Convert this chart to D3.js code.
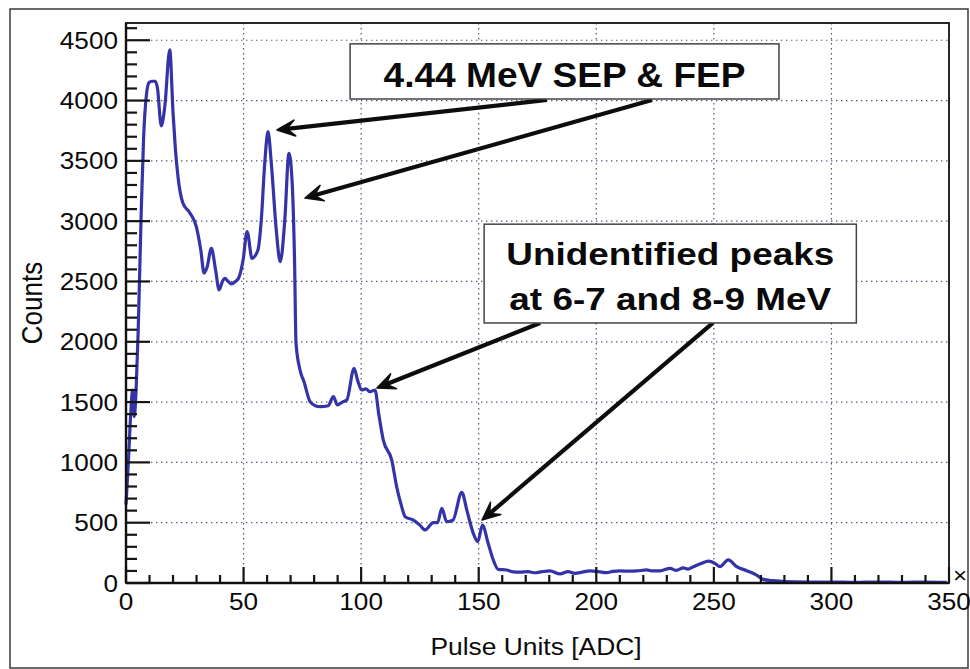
<!DOCTYPE html>
<html><head><meta charset="utf-8">
<script src="https://cdn.jsdelivr.net/npm/d3@7"></script>
<style>html,body{margin:0;padding:0;background:#fff;} svg{display:block}</style>
</head><body>
<svg id="chart" width="970" height="669"></svg>
<script>
// ---- data ----
const pulseUnits = [0,1,2,2.8,3.5,4.3,5.2,6.5,7.5,8.6,9.8,11,12.5,13.4,15,16.5,18.6,20,21,22.1,24.2,27.1,29.9,31.8,33.2,34.5,36.3,38.1,39.6,41,42,43.5,44.8,46.5,47.9,49.8,51.5,53.6,56.1,57.5,59,60.4,61.8,63.9,65.6,67.5,69.3,70.6,71.7,72.3,74,75.7,78.3,80.5,82.5,86,88.2,89.9,92,93.9,97,98.5,100.2,102,103.8,105.9,107.5,109.4,113,115.1,117,118.7,122.2,125,127.2,130.7,132.5,134.3,136.4,139,142.8,145,147.7,149.6,151.6,154,156.2,158.3,161.9,164,167.6,171,174,177,180.3,184.6,188,191,194,197.3,201,204.4,207,210.1,214,217.2,221.4,224,227.1,231.4,234,237,239,241.3,244.8,247.6,250.5,252.6,256.1,259.7,264,268.2,271,275.3,280,290,300,310,320,330,340,349];
const counts = [650,1000,1400,1600,1380,1600,2100,3100,3700,4030,4150,4160,4160,4100,3790,3950,4420,3900,3600,3370,3150,3070,2955,2761,2570,2620,2775,2595,2430,2500,2526,2500,2479,2500,2529,2678,2913,2692,2761,3000,3480,3742,3480,2927,2664,3000,3563,3342,2653,1990,1766,1669,1503,1470,1462,1470,1545,1476,1500,1517,1780,1680,1600,1610,1586,1600,1400,1186,1020,798,650,550,522,480,440,500,500,619,508,520,752,600,412,343,481,330,191,113,108,95,90,94,85,94,100,75,94,80,90,100,94,86,96,100,98,100,108,100,100,122,105,125,115,135,163,182,163,135,191,135,102,66,30,19,12,8,8,5,8,5,8,5];
const xTickValues = [0,50,100,150,200,250,300,350];
const yTickValues = [0,500,1000,1500,2000,2500,3000,3500,4000,4500];
const xMinorStep = 10;
const yMinorStep = 100;
const xAxisTitle = "Pulse Units [ADC]";
const yAxisTitle = "Counts";
const noteTexts = [["4.44 MeV SEP & FEP"], ["Unidentified peaks", "at 6-7 and 8-9 MeV"]];
// annotation boxes in data units: [x0, x1, yTop, yBottom]
const noteBoxes = [[95.3, 277.7, 4470, 4013], [152.3, 310.6, 2975, 2156]];
// arrows in data units: [tailX, tailY, tipX, tipY]
const noteArrows = [[179.0, 4005, 64.2, 3756], [223.7, 4005, 76.1, 3192], [176.1, 2156, 106.7, 1617], [249.6, 2156, 151.4, 522]];

// ---- drawing ----
const svg = d3.select("#chart");
const FONT = "'Liberation Sans', Arial, Helvetica, sans-serif";
const L = 126, R = 949, T = 23, B = 583;
const x = d3.scaleLinear().domain([0, 350]).range([L, R]);
const y = d3.scaleLinear().domain([0, 4643]).range([B, T]);

svg.append("rect").attr("x", 10).attr("y", 9).attr("width", 958).attr("height", 659)
  .attr("fill", "#fff").attr("stroke", "#3a3a3a").attr("stroke-width", 1.5);

// grid
const grid = svg.append("g").attr("stroke", "#55557a").attr("stroke-width", 1.2).attr("stroke-dasharray", "1.4,3.6");
grid.selectAll("line.gx").data(xTickValues.filter(v => v > 0 && v < 350)).join("line")
  .attr("x1", d => x(d)).attr("x2", d => x(d)).attr("y1", T).attr("y2", B);
grid.selectAll("line.gy").data(yTickValues.filter(v => v > 0)).join("line")
  .attr("x1", L).attr("x2", R).attr("y1", d => y(d)).attr("y2", d => y(d));

// curve
svg.append("path").datum(pulseUnits.map((p, i) => [p, counts[i]]))
  .attr("fill", "none").attr("stroke", "#3434a8").attr("stroke-width", 3.2).attr("stroke-linejoin", "round")
  .attr("d", d3.line().x(d => x(d[0])).y(d => y(d[1])).curve(d3.curveMonotoneX));

// frame
svg.append("rect").attr("x", L).attr("y", T).attr("width", R - L).attr("height", B - T)
  .attr("fill", "none").attr("stroke", "#111").attr("stroke-width", 1.8);

// tick marks, drawn inside the frame from the scales
const xMinor = d3.range(0, 351, xMinorStep).filter(v => !xTickValues.includes(v));
const yMinor = d3.range(0, 4601, yMinorStep).filter(v => !yTickValues.includes(v));
const ticks = svg.append("g").attr("stroke", "#151515").attr("stroke-width", 2.2);
ticks.selectAll("line.xM").data(xTickValues).join("line").attr("class", "xM")
  .attr("x1", d => x(d)).attr("x2", d => x(d)).attr("y1", B).attr("y2", B - 16);
ticks.selectAll("line.xm").data(xMinor).join("line").attr("class", "xm")
  .attr("x1", d => x(d)).attr("x2", d => x(d)).attr("y1", B).attr("y2", B - 8);
ticks.selectAll("line.yM").data(yTickValues).join("line").attr("class", "yM")
  .attr("x1", L).attr("x2", L + 24).attr("y1", d => y(d)).attr("y2", d => y(d));
ticks.selectAll("line.ym").data(yMinor).join("line").attr("class", "ym")
  .attr("x1", L).attr("x2", L + 11).attr("y1", d => y(d)).attr("y2", d => y(d));
svg.append("line").attr("x1", L).attr("x2", R).attr("y1", B).attr("y2", B).attr("stroke", "#111").attr("stroke-width", 2.4);
svg.append("line").attr("x1", L).attr("x2", L).attr("y1", T).attr("y2", B).attr("stroke", "#111").attr("stroke-width", 2.4);

function stxt(g, px, py, str, size, sx, anchor, weight) {
  return g.append("text").attr("transform", `translate(${px},${py}) scale(${sx},1)`)
    .attr("text-anchor", anchor).attr("font-family", FONT).attr("font-size", size)
    .attr("font-weight", weight || "normal").attr("fill", "#0a0a0a").text(str);
}
const labels = svg.append("g");
xTickValues.forEach(v => stxt(labels, x(v), 610, String(v), 24, 1.09, "middle"));
yTickValues.forEach(v => stxt(labels, 118, y(v) + 8.5, String(v), 24, 1.09, "end"));
stxt(labels, 953, 583, "×", 22, 1.1, "start");
stxt(labels, 536, 655, xAxisTitle, 24, 1.1, "middle");
labels.append("text").attr("transform", `translate(42,303) scale(1.1,1) rotate(-90)`)
  .attr("text-anchor", "middle").attr("font-family", FONT).attr("font-size", 26).attr("fill", "#0a0a0a").text(yAxisTitle);

// annotations
const ann = svg.append("g");
noteArrows.forEach(a => {
  const x1 = x(a[0]), y1 = y(a[1]), x2 = x(a[2]), y2 = y(a[3]);
  const ang = Math.atan2(y2 - y1, x2 - x1);
  const hl = 18, hw = 8, notch = 10;
  const ux = Math.cos(ang), uy = Math.sin(ang), nx = -uy, ny = ux;
  ann.append("line").attr("x1", x1).attr("y1", y1).attr("x2", x2 - ux * notch).attr("y2", y2 - uy * notch)
    .attr("stroke", "#0d0d0d").attr("stroke-width", 4.2);
  const p = [[x2, y2], [x2 - ux * hl + nx * hw, y2 - uy * hl + ny * hw], [x2 - ux * notch, y2 - uy * notch], [x2 - ux * hl - nx * hw, y2 - uy * hl - ny * hw]];
  ann.append("path").attr("d", "M" + p.map(q => q.join(",")).join("L") + "Z").attr("fill", "#0d0d0d")
    .attr("stroke", "#0d0d0d").attr("stroke-width", 1.5).attr("stroke-linejoin", "round");
});
noteBoxes.forEach((b, i) => {
  const bx0 = x(b[0]), bx1 = x(b[1]), by0 = y(b[2]), by1 = y(b[3]);
  ann.append("rect").attr("x", bx0).attr("y", by0).attr("width", bx1 - bx0).attr("height", by1 - by0)
    .attr("fill", "#fff").attr("stroke", "#444").attr("stroke-width", 1.5);
  const cx = (bx0 + bx1) / 2;
  if (i === 0) {
    stxt(ann, cx, by0 + 43, noteTexts[0][0], 35, 1.06, "middle", "bold");
  } else {
    stxt(ann, cx, by0 + 41, noteTexts[1][0], 31, 1.19, "middle", "bold");
    stxt(ann, cx, by0 + 86, noteTexts[1][1], 31, 1.19, "middle", "bold");
  }
});
</script>
</body></html>
